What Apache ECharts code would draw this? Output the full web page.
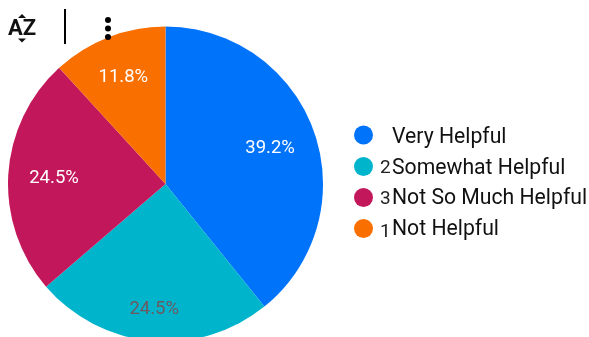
<!DOCTYPE html>
<html>
<head>
<meta charset="utf-8">
<style>html,body{margin:0;padding:0;background:#fff;overflow:hidden}#c{width:589px;height:337px}</style>
<script src="https://cdn.jsdelivr.net/npm/echarts@6/dist/echarts.min.js"></script>
</head>
<body>
<div id="c"></div>
<script>
const categories = ['Very Helpful', 'Somewhat Helpful', 'Not So Much Helpful', 'Not Helpful'];
const values = [39.2, 24.5, 24.5, 11.8];
const ranks = ['', '2', '3', '1'];
const colors = ['#0073fb', '#00b4cc', '#c2185b', '#f96f00'];
const labelColors = ['#ffffff', '#6b5a60', '#ffffff', '#ffffff'];
const radialPush = [0.185, 0.27, 0.19, 0.22];

const R = 157.5;
const total = values.reduce((a, b) => a + b, 0);
let acc = 0;
const pieData = values.map((v, i) => {
  const mid = (acc + v / 2) / total * Math.PI * 2;
  acc += v;
  const p = radialPush[i] * R;
  return {
    name: categories[i],
    value: v,
    itemStyle: { color: colors[i] },
    // labels sit further out than the mid-radius default, and slightly below the radial line
    label: { color: labelColors[i], offset: [Math.sin(mid) * p, -Math.cos(mid) * p + 1.5] }
  };
});

// Legend rows: a tall spacer fixes the row height, and bottom-aligned tokens of
// differing height nudge the rank digit and the name down within the row.
const rowHeight = 26;
const nameHeights = [20, 22, 24, 24];
const rankHeights = [26, 22, 22, 18];
const legendRich = { s: { width: 0, lineHeight: rowHeight, height: rowHeight, fontSize: 1 } };
categories.forEach((_, i) => {
  legendRich['n' + i] = { width: 11, height: rankHeights[i], verticalAlign: 'bottom', padding: [0, 1, 0, 2], fontFamily: 'Roboto', fontSize: 19, color: '#222', align: 'left' };
  legendRich['t' + i] = { height: nameHeights[i], verticalAlign: 'bottom', fontFamily: 'Roboto', fontSize: 21.2, color: '#111' };
});

const chart = echarts.init(document.getElementById('c'), null, { renderer: 'canvas' });
chart.setOption({
  animation: false,
  backgroundColor: '#fff',
  legend: {
    orient: 'vertical',
    left: 354,
    top: 122,
    icon: 'circle',
    itemWidth: 19,
    itemHeight: 19,
    itemGap: 5,
    padding: 0,
    selectedMode: false,
    data: categories,
    formatter: name => {
      const i = categories.indexOf(name);
      return '{s| }{n' + i + '|' + (ranks[i] || ' ') + '}{t' + i + '|' + name + '}';
    },
    textStyle: { rich: legendRich }
  },
  series: [{
    type: 'pie',
    center: [165.5, 184],
    radius: [0, R],
    startAngle: 90,
    clockwise: true,
    avoidLabelOverlap: false,
    label: {
      position: 'inner',
      fontFamily: 'Roboto',
      fontSize: 18.5,
      formatter: p => p.value.toFixed(1) + '%'
    },
    labelLine: { show: false },
    emphasis: { disabled: true },
    data: pieData
  }],
  // sort control and overflow menu above the plot
  graphic: [
    { type: 'text', z: 100, left: 8, top: 18, style: { text: 'AZ', fontFamily: 'Roboto', fontWeight: 'bold', fontSize: 22, fill: '#111' } },
    { type: 'polygon', z: 100, shape: { points: [[22, 14], [18, 18], [26, 18]] }, style: { fill: '#111' } },
    { type: 'polygon', z: 100, shape: { points: [[22, 42.5], [18, 38.5], [26, 38.5]] }, style: { fill: '#111' } },
    { type: 'rect', z: 100, shape: { x: 64, y: 9, width: 2, height: 35 }, style: { fill: '#000' } },
    { type: 'circle', z: 100, shape: { cx: 108, cy: 20, r: 3 }, style: { fill: '#000' } },
    { type: 'circle', z: 100, shape: { cx: 108, cy: 28.5, r: 3 }, style: { fill: '#000' } },
    { type: 'circle', z: 100, shape: { cx: 108, cy: 37, r: 3 }, style: { fill: '#000' } }
  ]
});
</script>
</body>
</html>
